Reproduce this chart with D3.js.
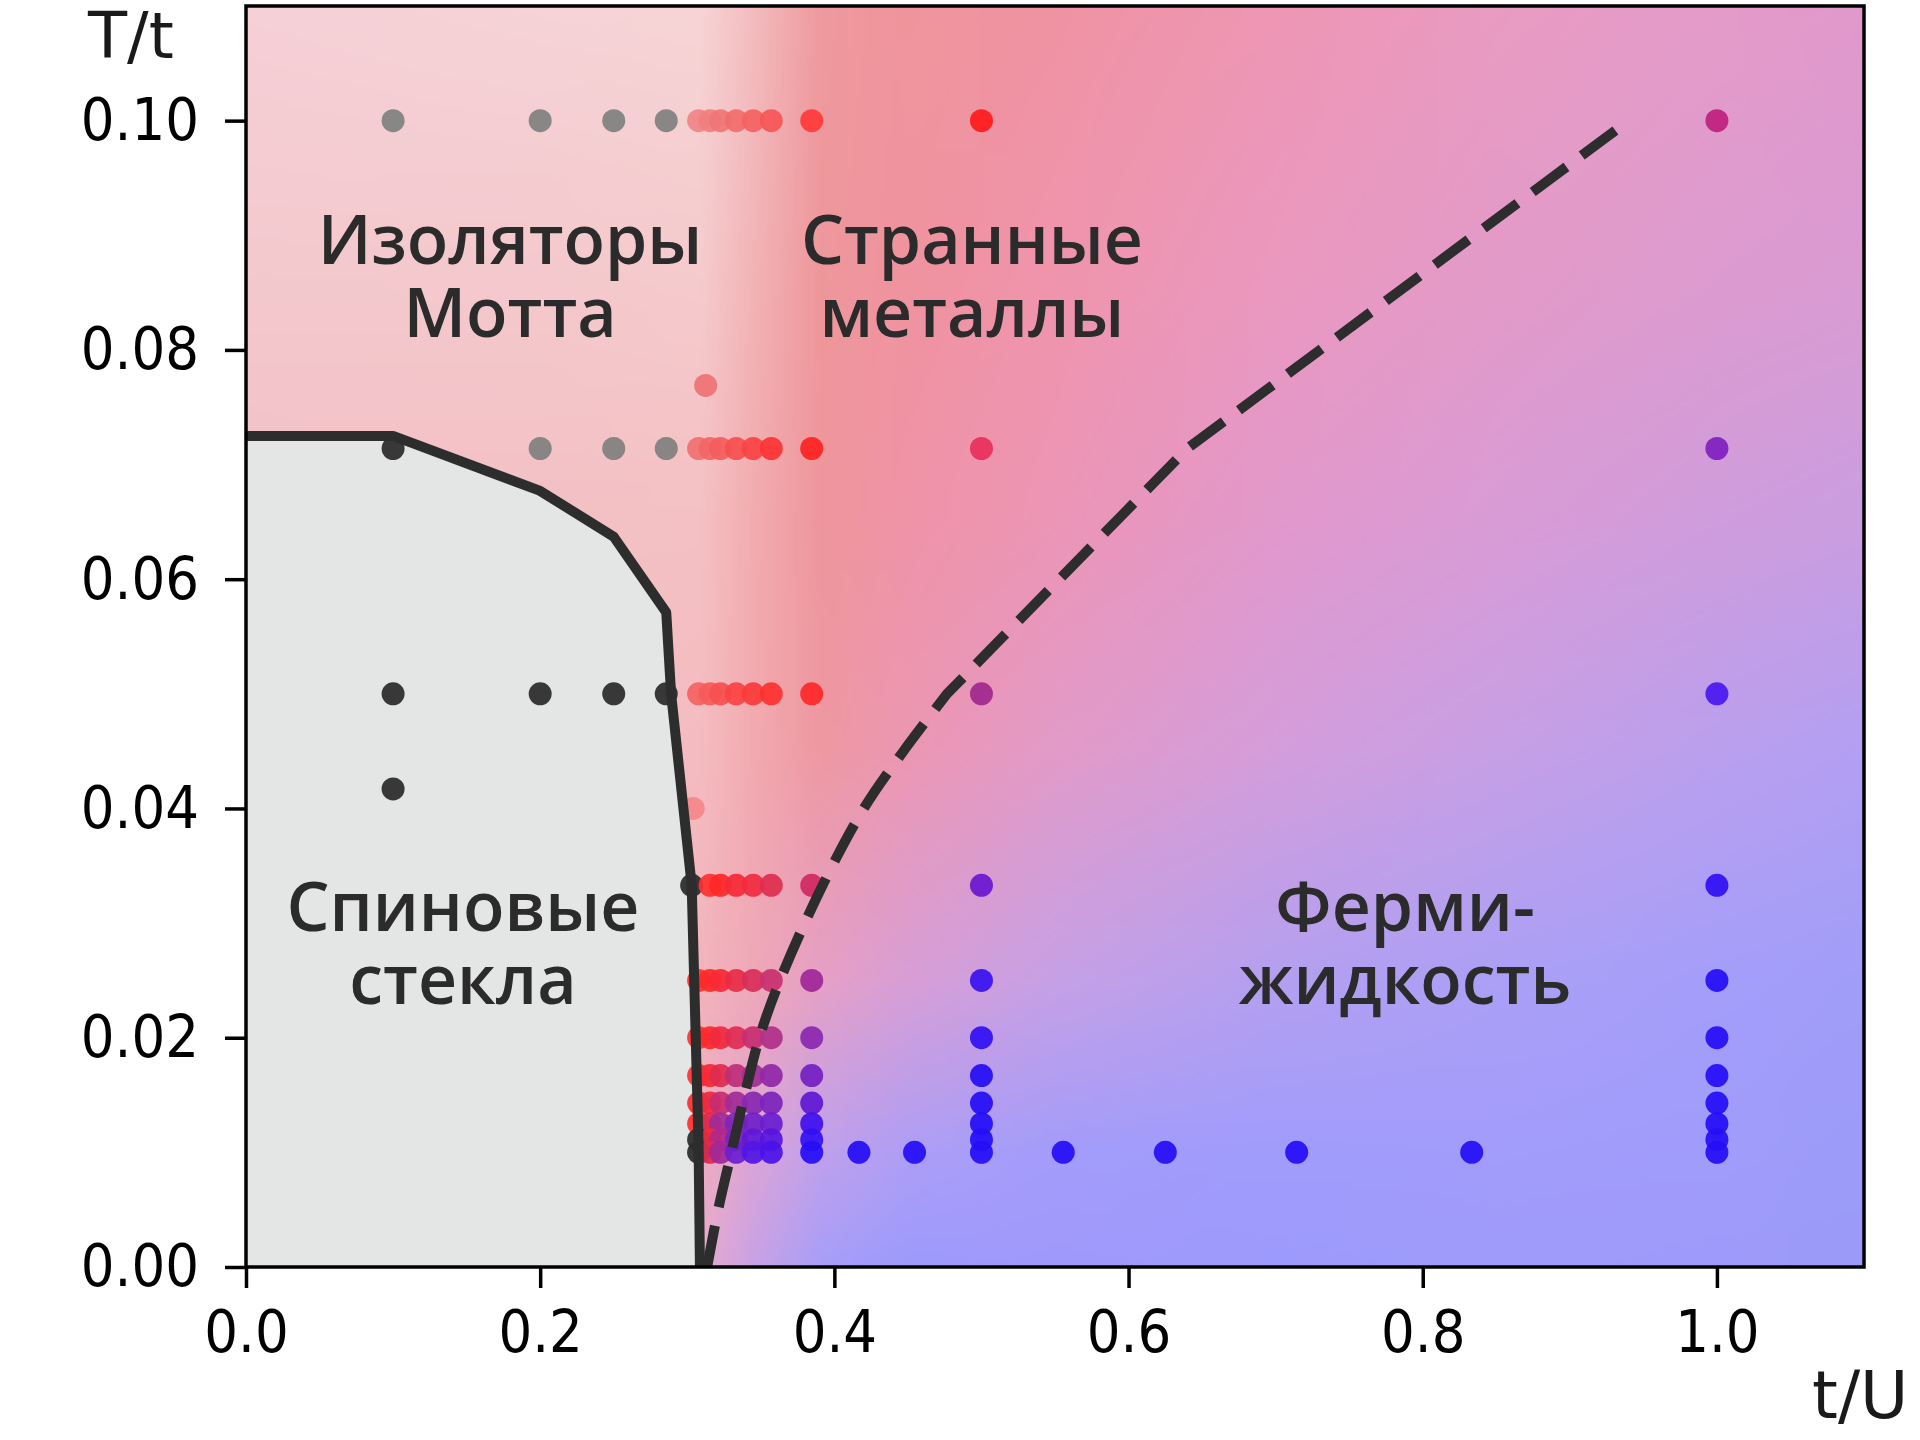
<!DOCTYPE html>
<html><head><meta charset="utf-8">
<script src="https://cdn.jsdelivr.net/npm/d3@7"></script>
<style>body{margin:0;background:#ffffff}</style>
</head><body><svg id="chart" width="1920" height="1440"></svg>
<script>
// ---------- data ----------
const xTicks = [0, 0.2, 0.4, 0.6, 0.8, 1.0];
const yTicks = [0, 0.02, 0.04, 0.06, 0.08, 0.10];

// spin-glass boundary (solid)
const solidX = [0, 0.1, 0.2, 0.25, 0.2857, 0.289, 0.303, 0.3077, 0.3086];
const solidT = [0.0725, 0.0725, 0.0677, 0.0637, 0.0571, 0.05, 0.0333, 0.0105, 0];

// strange metal / Fermi liquid crossover (dashed): curved lower part, then straight segments
const dashLowX = [0.3135, 0.321, 0.33, 0.339, 0.349, 0.363, 0.392, 0.42, 0.447, 0.4766];
const dashLowT = [0, 0.005, 0.01, 0.015, 0.02, 0.025, 0.0333, 0.04, 0.045, 0.05];
const dashHighX = [0.4766, 0.64, 0.94];
const dashHighT = [0.05, 0.0714, 0.1];

// simulated points: [t/U, T/t, colour]
const clusterX = [0.3077, 0.3155, 0.3226, 0.3333, 0.3448, 0.3571];
const GR = "#808080", BK = "#2b2b2b", BL = "#260ef6";
const points = [
  // T = 0.1
  [0.1, 0.1, GR], [0.2, 0.1, GR], [0.25, 0.1, GR], [0.2857, 0.1, GR],
  [clusterX[0], 0.1, "#f08484"], [clusterX[1], 0.1, "#f07e7e"], [clusterX[2], 0.1, "#f07676"],
  [clusterX[3], 0.1, "#f26c6c"], [clusterX[4], 0.1, "#f46262"], [clusterX[5], 0.1, "#f65656"],
  [0.3846, 0.1, "#ff3a3a"], [0.5, 0.1, "#ff1c1c"], [1.0, 0.1, "#c0207e"],
  // T = 1/13
  [0.3125, 0.0769, "#f07272"],
  // T = 1/14
  [0.1, 0.0714, BK], [0.2, 0.0714, GR], [0.25, 0.0714, GR], [0.2857, 0.0714, GR],
  [clusterX[0], 0.0714, "#f07070"], [clusterX[1], 0.0714, "#f26666"], [clusterX[2], 0.0714, "#f45c5c"],
  [clusterX[3], 0.0714, "#f75050"], [clusterX[4], 0.0714, "#fa4444"], [clusterX[5], 0.0714, "#fd3434"],
  [0.3846, 0.0714, "#ff2222"], [0.5, 0.0714, "#e8305c"], [1.0, 0.0714, "#8020c0"],
  // T = 0.05
  [0.1, 0.05, BK], [0.2, 0.05, BK], [0.25, 0.05, BK], [0.2857, 0.05, BK],
  [clusterX[0], 0.05, "#f46262"], [clusterX[1], 0.05, "#f65a5a"], [clusterX[2], 0.05, "#f85050"],
  [clusterX[3], 0.05, "#fa4444"], [clusterX[4], 0.05, "#fc3a3a"], [clusterX[5], 0.05, "#fe3030"],
  [0.3846, 0.05, "#ff2828"], [0.5, 0.05, "#a0288e"], [1.0, 0.05, "#4a18f0"],
  // extras
  [0.1, 0.0417, BK], [0.304, 0.04, "#f48888"],
  // T = 1/30
  [0.303, 0.0333, BK],
  [clusterX[1], 0.0333, "#ff3030"], [clusterX[2], 0.0333, "#ff2828"],
  [clusterX[3], 0.0333, "#f82a38"], [clusterX[4], 0.0333, "#f02c40"], [clusterX[5], 0.0333, "#e02e50"],
  [0.3846, 0.0333, "#d02a62"], [0.5, 0.0333, "#6a18d0"], [1.0, 0.0333, "#3010f4"],
  // T = 0.025
  [clusterX[0], 0.025, "#ff3434"], [clusterX[1], 0.025, "#ff2a2a"], [clusterX[2], 0.025, "#f82a36"],
  [clusterX[3], 0.025, "#e82c48"], [clusterX[4], 0.025, "#d82e5a"], [clusterX[5], 0.025, "#c83070"],
  [0.3846, 0.025, "#a02898"], [0.5, 0.025, "#3a12f0"], [1.0, 0.025, BL],
  // T = 0.02
  [clusterX[0], 0.02, "#ff3434"], [clusterX[1], 0.02, "#ff2a2a"], [clusterX[2], 0.02, "#f02a40"],
  [clusterX[3], 0.02, "#e02c54"], [clusterX[4], 0.02, "#c82e70"], [clusterX[5], 0.02, "#b0308a"],
  [0.3846, 0.02, "#8a28b0"], [0.5, 0.02, "#3010f4"], [1.0, 0.02, BL],
  // T = 1/60
  [clusterX[0], 0.0167, "#ff3434"], [clusterX[1], 0.0167, "#f82a36"], [clusterX[2], 0.0167, "#e02c50"],
  [clusterX[3], 0.0167, "#c02e78"], [clusterX[4], 0.0167, "#a02e98"], [clusterX[5], 0.0167, "#9028a8"],
  [0.3846, 0.0167, "#7420c4"], [0.5, 0.0167, BL], [1.0, 0.0167, BL],
  // T = 1/70
  [clusterX[0], 0.0143, "#ff3030"], [clusterX[1], 0.0143, "#f02a40"], [clusterX[2], 0.0143, "#c82c70"],
  [clusterX[3], 0.0143, "#a02c98"], [clusterX[4], 0.0143, "#8828b0"], [clusterX[5], 0.0143, "#7c24bc"],
  [0.3846, 0.0143, "#6018d4"], [0.5, 0.0143, BL], [1.0, 0.0143, BL],
  // T = 1/80
  [clusterX[0], 0.0125, "#ff3030"], [clusterX[1], 0.0125, "#e02a50"], [clusterX[2], 0.0125, "#a02a98"],
  [clusterX[3], 0.0125, "#8026b8"], [clusterX[4], 0.0125, "#7020c8"], [clusterX[5], 0.0125, "#6a1ed0"],
  [0.3846, 0.0125, "#4010ee"], [0.5, 0.0125, BL], [1.0, 0.0125, BL],
  // T = 1/90
  [clusterX[0], 0.0111, BK], [clusterX[1], 0.0111, "#f02a40"], [clusterX[2], 0.0111, "#b02888"],
  [clusterX[3], 0.0111, "#7a22c0"], [clusterX[4], 0.0111, "#6018d8"], [clusterX[5], 0.0111, "#5814e0"],
  [0.3846, 0.0111, "#3410f4"], [0.5, 0.0111, BL], [1.0, 0.0111, BL],
  // T = 0.01
  [clusterX[0], 0.01, BK], [clusterX[1], 0.01, "#e02a50"], [clusterX[2], 0.01, "#a0289a"],
  [clusterX[3], 0.01, "#6a1ed0"], [clusterX[4], 0.01, "#5216e4"], [clusterX[5], 0.01, "#4a12e8"],
  [0.3846, 0.01, BL], [0.4167, 0.01, BL], [0.4545, 0.01, BL], [0.5, 0.01, BL],
  [0.5556, 0.01, BL], [0.625, 0.01, BL], [0.7143, 0.01, BL], [0.8333, 0.01, BL], [1.0, 0.01, BL]
];

// region labels: [line1, line2, t/U centre, T/t baseline of line1, T/t baseline of line2]
const labels = [
  ["Изоляторы", "Мотта", 0.1795, 0.0875, 0.0811],
  ["Странные", "металлы", 0.4935, 0.0875, 0.0811],
  ["Спиновые", "стекла", 0.1475, 0.0293, 0.0229],
  ["Ферми-", "жидкость", 0.788, 0.0293, 0.0229]
];

// background colour field
const bgX = [0, 0.2, 0.31, 0.345, 0.39, 0.45, 0.55, 0.7, 0.85, 1.0, 1.1];
const bgY = [0.11, 0.085, 0.065, 0.045, 0.025, 0.01, 0];
const bgRow0 = ["#f5d0d6","#f5d3d7","#f6d4d5","#f3bcbf","#ee9a9e","#f0949c","#ef93a3","#ee96b4","#e99bc2","#e49bc9","#e198cb"];
const bgRow1 = ["#f3c8cd","#f4c8cc","#f5cacc","#f2b3b6","#ee979b","#ef93a0","#ef94ad","#ea98c0","#e29ac8","#dc9bd0","#d99bd3"];
const bgRow2 = ["#f2c0c5","#f2c0c4","#f4c0c3","#f2acb0","#ee969c","#ef93a8","#ec95b6","#e198cc","#d99bd6","#cf9cdc","#ca9de0"];
const bgRow3 = ["#f2bfc4","#f2bec2","#f4bcc0","#f2aab0","#ee98a2","#ec97b3","#e29ac8","#d49ddb","#c79fe5","#ba9fee","#b39ff3"];
const bgRow4 = ["#f2bfc4","#f2bec2","#f2b4bc","#efa8b8","#e6a0c6","#d89ed6","#c6a0e6","#b49ff0","#ab9ff6","#a49efa","#a09df8"];
const bgRow5 = ["#f2bfc4","#f2bec2","#eeacc0","#dca4d6","#c0a0ec","#ae9ef6","#a39cfa","#a09cfc","#a29cfa","#a09cfb","#9c9bf8"];
const bgRow6 = ["#f2bfc4","#f2bec2","#e8aad0","#c8a2e6","#a89ef8","#9c9afc","#a099fc","#9c9afc","#9e9bfb","#9e9afb","#9a9af8"];
const bgRows = [bgRow0, bgRow1, bgRow2, bgRow3, bgRow4, bgRow5, bgRow6];

// ---------- layout ----------
const L = 246, T = 6, R = 1864, B = 1267;
const x = d3.scaleLinear().domain([0, 1.1]).range([L, R]);
const y = d3.scaleLinear().domain([0, 0.11]).range([B, T]);
const svg = d3.select("#chart");

// background image
(function () {
  const W = 330, H = 260;
  const cv = document.createElement("canvas");
  cv.width = W; cv.height = H;
  const ctx = cv.getContext("2d");
  const img = ctx.createImageData(W, H);
  const rgb = bgRows.map(r => r.map(c => d3.rgb(c)));
  function loc(arr, v, desc) {
    for (let k = 0; k < arr.length - 1; k++) {
      const a = arr[k], b = arr[k + 1];
      if ((!desc && v >= a && v <= b) || (desc && v <= a && v >= b)) return [k, (v - a) / (b - a)];
    }
    return desc ? (v > arr[0] ? [0, 0] : [arr.length - 2, 1]) : (v < arr[0] ? [0, 0] : [arr.length - 2, 1]);
  }
  for (let j = 0; j < H; j++) {
    const tv = 0.11 - (j + 0.5) / H * 0.11;
    const [jy, fy] = loc(bgY, tv, true);
    for (let i = 0; i < W; i++) {
      const xv = (i + 0.5) / W * 1.1;
      const [ix, fx] = loc(bgX, xv, false);
      const c00 = rgb[jy][ix], c01 = rgb[jy][ix + 1], c10 = rgb[jy + 1][ix], c11 = rgb[jy + 1][ix + 1];
      const p = (j * W + i) * 4;
      for (const [ch, o] of [["r", 0], ["g", 1], ["b", 2]]) {
        const top = c00[ch] * (1 - fx) + c01[ch] * fx;
        const bot = c10[ch] * (1 - fx) + c11[ch] * fx;
        img.data[p + o] = top * (1 - fy) + bot * fy;
      }
      img.data[p + 3] = 255;
    }
  }
  ctx.putImageData(img, 0, 0);
  svg.append("image")
    .attr("href", cv.toDataURL())
    .attr("x", x(0)).attr("y", y(0.11))
    .attr("width", x(1.1) - x(0)).attr("height", y(0) - y(0.11))
    .attr("preserveAspectRatio", "none");
})();

// spin-glass region
const solidPts = solidX.map((v, i) => [v, solidT[i]]);
const areaPts = [[0, 0]].concat(solidPts);
svg.append("path")
  .attr("d", d3.line().x(d => x(d[0])).y(d => y(d[1]))(areaPts) + "Z")
  .attr("fill", "#e4e5e5");

// labels
const lab = svg.append("g").selectAll("text").data(labels).join("text")
  .attr("text-anchor", "middle")
  .attr("font-family", "'Open Sans', 'Noto Sans', sans-serif")
  .attr("font-weight", 600)
  .attr("font-size", 68)
  .attr("fill", "#2b2b2b");
lab.append("tspan").attr("x", d => x(d[2])).attr("y", d => y(d[3])).text(d => d[0]);
lab.append("tspan").attr("x", d => x(d[2])).attr("y", d => y(d[4])).text(d => d[1]);

// points
svg.append("g").selectAll("circle").data(points).join("circle")
  .attr("cx", d => x(d[0])).attr("cy", d => y(d[1]))
  .attr("r", 11.5)
  .attr("fill", d => d[2])
  .attr("fill-opacity", 0.93);

// boundary lines
svg.append("path")
  .attr("d", d3.line().x(d => x(d[0])).y(d => y(d[1]))(solidPts))
  .attr("fill", "none").attr("stroke", "#2d2d2d").attr("stroke-width", 10)
  .attr("stroke-linejoin", "round");

const dashLow = dashLowX.map((v, i) => [v, dashLowT[i]]);
const dashHigh = dashHighX.map((v, i) => [v, dashHighT[i]]);
const lowPath = d3.line().curve(d3.curveCatmullRom.alpha(0.5)).x(d => x(d[0])).y(d => y(d[1]))(dashLow);
const highPath = d3.line().x(d => x(d[0])).y(d => y(d[1]))(dashHigh.slice(1)).replace(/^M/, "L");
svg.append("path")
  .attr("d", lowPath + highPath)
  .attr("fill", "none").attr("stroke", "#2d2d2d").attr("stroke-width", 10)
  .attr("stroke-dasharray", "42 19");

// frame
svg.append("rect")
  .attr("x", L).attr("y", T).attr("width", R - L).attr("height", B - T)
  .attr("fill", "none").attr("stroke", "#000").attr("stroke-width", 3.5);

// axes
const tickFont = "'DejaVu Sans Condensed', 'DejaVu Sans', sans-serif";
const gx = svg.append("g").attr("transform", `translate(0,${B})`)
  .call(d3.axisBottom(x).tickValues(xTicks).tickFormat(d3.format(".1f")).tickSize(21).tickPadding(22));
const gy = svg.append("g").attr("transform", `translate(${L},0)`)
  .call(d3.axisLeft(y).tickValues(yTicks).tickFormat(d3.format(".2f")).tickSize(21).tickPadding(26));
[gx, gy].forEach(g => {
  g.select(".domain").remove();
  g.selectAll(".tick line").attr("stroke", "#000").attr("stroke-width", 3.5);
  g.selectAll(".tick text").attr("fill", "#000")
    .attr("font-family", tickFont).attr("font-stretch", "condensed").attr("font-size", 59);
});

// axis titles
svg.append("text").attr("x", 88).attr("y", 58)
  .attr("font-family", "'DejaVu Sans', sans-serif").attr("font-size", 64).attr("fill", "#1a1a1a")
  .text("T/t");
svg.append("text").attr("x", 1812).attr("y", 1418)
  .attr("font-family", "'DejaVu Sans', sans-serif").attr("font-size", 66).attr("fill", "#1a1a1a")
  .text("t/U");
</script></body></html>
